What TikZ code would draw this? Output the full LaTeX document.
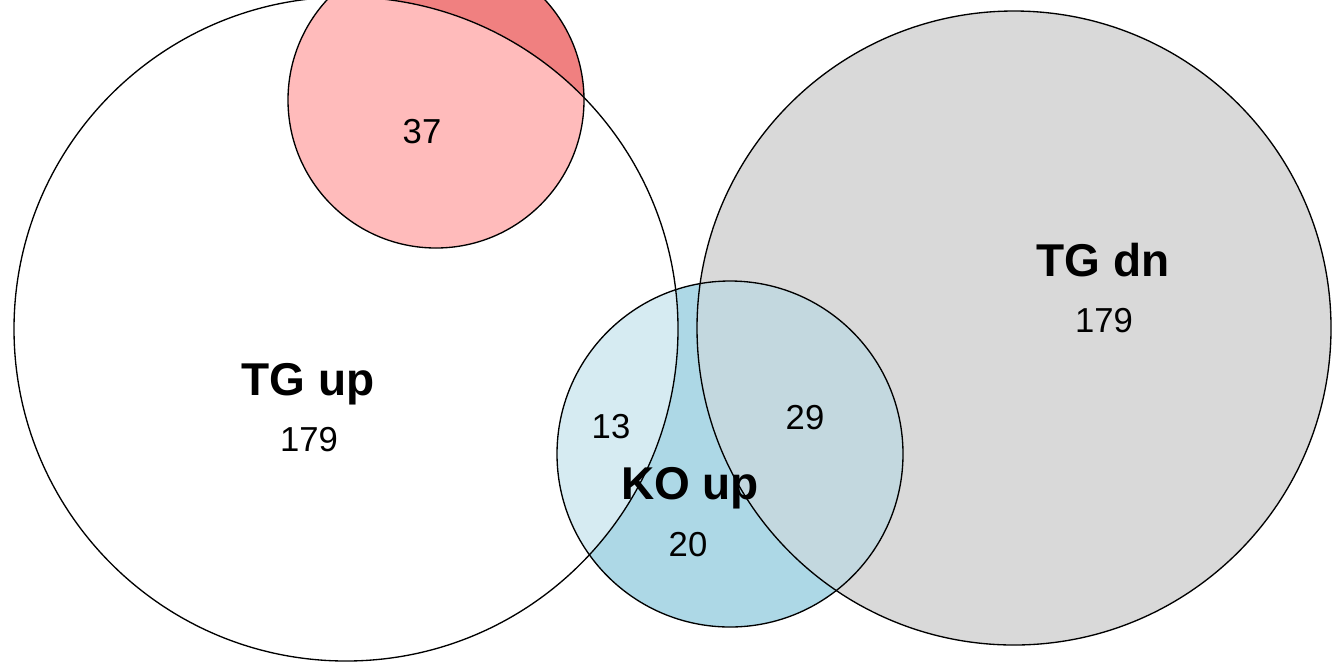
\documentclass[tikz,border=0pt]{standalone}
\usepackage{fontspec}
\setmainfont{Liberation Sans}
\usepackage{tikz}

\definecolor{tgdngrey}{HTML}{D9D9D9}
\definecolor{koupblue}{HTML}{ADD8E6}
\definecolor{kodnred}{HTML}{F08080}
\definecolor{kodnpink}{HTML}{FFBBBB}

\tikzset{
	setline/.style={draw=black,line width=1pt},
	setname/.style={anchor=base,font=\fontsize{34.5}{40}\selectfont\bfseries},
	setcount/.style={anchor=base,font=\fontsize{26}{30}\selectfont},
}

\begin{document}
\begin{tikzpicture}[x=0.75pt,y=-0.75pt]
	\fill[white] (0,0) rectangle (1333,662);
	\useasboundingbox (0,0) rectangle (1333,662);
	% circle centres
	\coordinate (tgup) at (346,329);
	\coordinate (tgdn) at (1014,328);
	\coordinate (koup) at (730,454);
	\coordinate (kodn) at (436,100);
	% plain fills
	\fill[tgdngrey] (tgdn) circle[radius=237.75pt];
	\fill[koupblue] (koup) circle[radius=129.75pt];
	\fill[kodnred] (kodn) circle[radius=111pt];
	% overlaps
	\fill[white,fill opacity=0.5] (tgup) circle[radius=249pt];
	\fill[tgdngrey,fill opacity=0.5] (tgdn) circle[radius=237.75pt];
	\begin{scope}
		\clip (tgup) circle[radius=249pt];
		\fill[kodnpink] (kodn) circle[radius=111pt];
	\end{scope}
	% outlines
	\draw[setline] (tgup) circle[radius=249pt];
	\draw[setline] (tgdn) circle[radius=237.75pt];
	\draw[setline] (koup) circle[radius=129.75pt];
	\draw[setline] (kodn) circle[radius=111pt];
	% labels
	\node[setname] (tguplab) at (308,395) {TG up};
	\node[setcount] (tgupn) at (309,451) {179};
	\node[setname] (tgdnlab) at (1103,276) {TG dn};
	\node[setcount] (tgdnn) at (1104,332) {179};
	\node[setname] (kouplab) at (690,499) {KO up};
	\node[setcount] (koupn) at (688,556) {20};
	\node[setcount] (tgupkoup) at (611,438) {13};
	\node[setcount] (tgdnkoup) at (805,429) {29};
	\node[setcount] (tgupkodn) at (422,143) {37};
\end{tikzpicture}
\end{document}
